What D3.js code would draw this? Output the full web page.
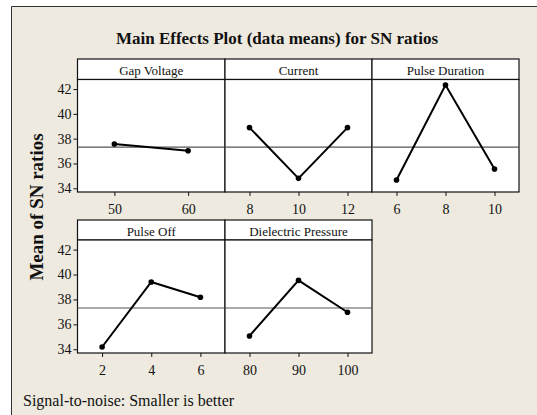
<!DOCTYPE html>
<html><head><meta charset="utf-8">
<script src="https://cdn.jsdelivr.net/npm/d3@7"></script>
<style>
html,body{margin:0;padding:0;background:#fff;}
svg{display:block;}
text{font-family:"Liberation Serif","Times New Roman",serif;fill:#111;}
</style></head>
<body>
<script>
// Data
const factors = ["Gap Voltage","Current","Pulse Duration","Pulse Off","Dielectric Pressure"];
const gapVoltageLevels = [50,60];
const gapVoltageMeans = [37.57,37.03];
const currentLevels = [8,10,12];
const currentMeans = [38.89,34.80,38.89];
const pulseDurationLevels = [6,8,10];
const pulseDurationMeans = [34.67,42.33,35.56];
const pulseOffLevels = [2,4,6];
const pulseOffMeans = [34.18,39.40,38.17];
const dielectricLevels = [80,90,100];
const dielectricMeans = [35.07,39.53,36.97];
const overallMean = 37.31;
const yTicks = [34,36,38,40,42];
const title = "Main Effects Plot (data means) for SN ratios";
const yLabel = "Mean of SN ratios";
const footer = "Signal-to-noise: Smaller is better";

const panels = [
  {name:factors[0], levels:gapVoltageLevels, means:gapVoltageMeans, row:0, col:0},
  {name:factors[1], levels:currentLevels, means:currentMeans, row:0, col:1},
  {name:factors[2], levels:pulseDurationLevels, means:pulseDurationMeans, row:0, col:2},
  {name:factors[3], levels:pulseOffLevels, means:pulseOffMeans, row:1, col:0},
  {name:factors[4], levels:dielectricLevels, means:dielectricMeans, row:1, col:1}
];

const W = 537, H = 415;
const svg = d3.select("body").append("svg").attr("width", W).attr("height", H);

// background frame
svg.append("rect").attr("x", 11).attr("y", 6).attr("width", W - 11).attr("height", H - 6).attr("fill", "#eeeae0");
svg.append("path").attr("d", `M11.5,${H} V6.5 H${W}`).attr("fill", "none").attr("stroke", "#333").attr("stroke-width", 1);

// title
svg.append("text").attr("x", 277).attr("y", 44).attr("text-anchor", "middle")
  .attr("font-size", 17).attr("font-weight", "bold").text(title);

// y label
svg.append("text").attr("transform", "translate(43,207) rotate(-90)").attr("text-anchor", "middle")
  .attr("font-size", 19).attr("font-weight", "bold").text(yLabel);

// footer
svg.append("text").attr("x", 23).attr("y", 406).attr("font-size", 16).text(footer);

const colX = [77.5, 225, 372, 519];
const rows = [
  {stripTop: 59, plotTop: 79.5, plotBottom: 192},
  {stripTop: 220, plotTop: 240, plotBottom: 353}
];
const yDomain = [33.7, 42.77];

panels.forEach(p => {
  const x0 = colX[p.col], x1 = colX[p.col + 1];
  const r = rows[p.row];
  const g = svg.append("g");
  const x = d3.scalePoint().domain(p.levels).range([x0, x1]).padding(0.5);
  const y = d3.scaleLinear().domain(yDomain).range([r.plotBottom, r.plotTop]);

  // strip
  g.append("rect").attr("x", x0).attr("y", r.stripTop).attr("width", x1 - x0).attr("height", r.plotTop - r.stripTop)
    .attr("fill", "#fff").attr("stroke", "#111").attr("stroke-width", 1.2);
  g.append("text").attr("x", (x0 + x1) / 2).attr("y", r.stripTop + 15.5).attr("text-anchor", "middle")
    .attr("font-size", 13).text(p.name);
  // plot area
  g.append("rect").attr("x", x0).attr("y", r.plotTop).attr("width", x1 - x0).attr("height", r.plotBottom - r.plotTop)
    .attr("fill", "#fff").attr("stroke", "#111").attr("stroke-width", 1.2);
  // reference line
  g.append("line").attr("x1", x0).attr("x2", x1).attr("y1", y(overallMean)).attr("y2", y(overallMean))
    .attr("stroke", "#555").attr("stroke-width", 1.2);

  // x axis
  const xa = g.append("g").attr("transform", `translate(0,${r.plotBottom})`)
    .call(d3.axisBottom(x).tickSize(4).tickSizeOuter(0).tickPadding(8));
  xa.select(".domain").remove();
  xa.selectAll("line").attr("stroke", "#111");
  xa.selectAll("text").attr("font-size", 14).attr("font-family", "Liberation Serif, serif").attr("fill", "#111");

  // y axis for first column
  if (p.col === 0) {
    const ya = g.append("g").attr("transform", `translate(${x0},0)`)
      .call(d3.axisLeft(y).tickValues(yTicks).tickSize(4).tickPadding(2));
    ya.select(".domain").remove();
    ya.selectAll("line").attr("stroke", "#111");
    ya.selectAll("text").attr("font-size", 14).attr("font-family", "Liberation Serif, serif").attr("fill", "#111");
  }

  // line and points
  const pts = p.levels.map((l, i) => ({l, v: p.means[i]}));
  g.append("path").datum(pts)
    .attr("d", d3.line().x(d => x(d.l)).y(d => y(d.v)))
    .attr("fill", "none").attr("stroke", "#000").attr("stroke-width", 2);
  g.selectAll("circle.pt").data(pts).enter().append("circle")
    .attr("cx", d => x(d.l)).attr("cy", d => y(d.v)).attr("r", 2.8).attr("fill", "#000");
});
</script>
</body></html>
